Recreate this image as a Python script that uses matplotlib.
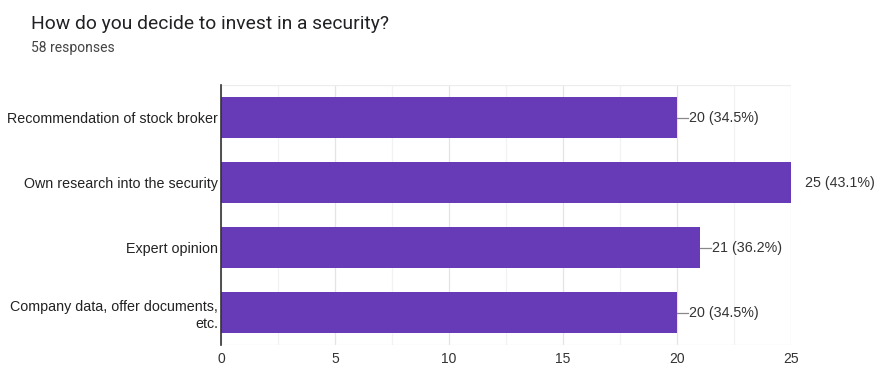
import numpy as np
import matplotlib
matplotlib.use("Agg")
import matplotlib.pyplot as plt

# survey data
categories = [
    "Recommendation of stock broker",
    "Own research into the security",
    "Expert opinion",
    "Company data, offer documents,\netc.",
]
counts = [20, 25, 21, 20]
percents = [34.5, 43.1, 36.2, 34.5]
xticks = [0, 5, 10, 15, 20, 25]

bar_color = "#673ab7"
text_color = "#333333"
fam = ["Liberation Sans", "DejaVu Sans"]

fig = plt.figure(figsize=(8.75, 3.67), dpi=100)
ax = fig.add_axes([0.2526, 0.06, 0.6514, 0.708])

y = np.arange(len(categories))
ax.barh(y, counts, height=0.62, color=bar_color, zorder=3)
ax.set_ylim(len(categories) - 0.5, -0.5)
ax.set_xlim(0, 25)

# gridlines
for v in np.arange(0, 25.01, 2.5):
    col = "#e4e4e4" if v % 5 == 0 else "#f2f2f2"
    ax.axvline(v, color=col, lw=0.9, zorder=1)
ax.axhline(-0.5, color="#ececec", lw=0.9, zorder=1)
ax.axhline(len(categories) - 0.5, color="#ececec", lw=0.9, zorder=1)

for s in ["top", "right", "bottom"]:
    ax.spines[s].set_visible(False)
ax.spines["left"].set_color("#333333")
ax.spines["left"].set_linewidth(1.2)
ax.spines["left"].set_zorder(4)

ax.set_xticks(xticks)
ax.set_xticklabels([str(t) for t in xticks], fontsize=10, color=text_color, family=fam)
ax.set_yticks(y)
ax.set_yticklabels(categories, fontsize=10.3, color="#222222", family=fam, ha="right",
                   linespacing=1.3)
ax.tick_params(axis="both", length=0, pad=2)
ax.tick_params(axis="x", pad=5)

# value labels
vmax = max(counts)
for i, (c, p) in enumerate(zip(counts, percents)):
    label = f"{c} ({p}%)"
    if c < vmax:
        ax.plot([c, c + 0.5], [i, i], color="#888888", lw=0.9, zorder=3, clip_on=False)
        ax.text(c + 0.52, i, label, va="center", ha="left", fontsize=10.3,
                color=text_color, family=fam)
    else:
        ax.text(c + 0.62, i, label, va="center", ha="left", fontsize=10.3,
                color=text_color, family=fam, clip_on=False)

fig.text(0.035, 0.921, "How do you decide to invest in a security?", fontsize=13.9,
         color="#202124", family=["Roboto", "DejaVu Sans"], va="baseline")
fig.text(0.035, 0.858, "58 responses", fontsize=10, color="#444444",
         family=["Roboto", "DejaVu Sans"], va="baseline")

fig.savefig("out.png", dpi=100, facecolor="white")
